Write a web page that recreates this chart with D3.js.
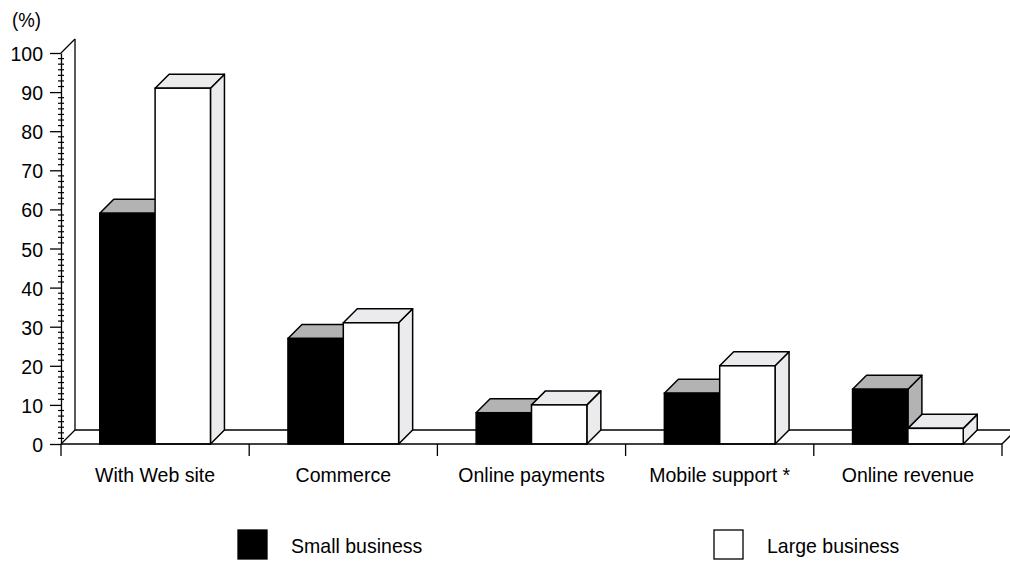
<!DOCTYPE html>
<html>
<head>
<meta charset="utf-8">
<script src="https://cdn.jsdelivr.net/npm/d3@7"></script>
<style>
  html, body { margin: 0; padding: 0; background: #fff; }
  svg text { font-family: "Liberation Sans", Arial, sans-serif; fill: #000; }
</style>
</head>
<body>
<svg id="chart" width="1010" height="561"></svg>
<script>
// Share of businesses by online activity (%)
const categories = ["With Web site", "Commerce", "Online payments", "Mobile support *", "Online revenue"];
const seriesNames = ["Small business", "Large business"];
const smallBusiness = [59, 27, 8, 13, 14];
const largeBusiness = [91, 31, 10, 20, 4];
const yTicks = [0, 10, 20, 30, 40, 50, 60, 70, 80, 90, 100];

const series = [
  { name: seriesNames[0], values: smallBusiness, front: "#000000", top: "#b3b3b3", side: "#b3b3b3" },
  { name: seriesNames[1], values: largeBusiness, front: "#ffffff", top: "#ebebed", side: "#ebebed" }
];

const svg = d3.select("#chart");
const plotLeft = 61, plotRight = 1002, plotBottom = 444, plotTop = 53;
const depth = 14;       // oblique depth offset (x right, y up)
const squeeze = 0.93;   // slightly condensed lettering

const x = d3.scaleBand().domain(categories).range([plotLeft, plotRight]).paddingInner(0).paddingOuter(0);
const xs = d3.scaleBand().domain(seriesNames).range([0, x.bandwidth()]).paddingInner(0).paddingOuter(0.7);
const y = d3.scaleLinear().domain([0, 100]).range([plotBottom, plotTop]);

const ink = "#000";
const g = svg.append("g");

// Back wall edge and floor outline
const floorBack = plotBottom - depth;
const frame = [
  [plotLeft, y(100), plotLeft + depth, y(100) - depth],            // top diagonal
  [plotLeft + depth, y(100) - depth, plotLeft + depth, floorBack], // back wall edge
  [plotLeft, plotBottom, plotLeft + depth, floorBack],             // left floor diagonal
  [plotLeft + depth, floorBack, plotRight + depth, floorBack],      // back floor line
  [plotRight, plotBottom, plotRight + depth, floorBack]            // right floor diagonal
];
g.selectAll("line.frame").data(frame).join("line")
  .attr("class", "frame")
  .attr("x1", d => d[0]).attr("y1", d => d[1])
  .attr("x2", d => d[2]).attr("y2", d => d[3])
  .attr("stroke", ink).attr("stroke-width", 1.3);

// Bars: side face, top face, front face
const bars = [];
categories.forEach((c, i) => {
  series.forEach(s => {
    bars.push({ cat: c, s: s, v: s.values[i] });
  });
});

const barG = g.append("g");
bars.forEach(b => {
  const x0 = x(b.cat) + xs(b.s.name);
  const x1 = x0 + xs.bandwidth();
  const yt = y(b.v);
  const grp = barG.append("g");
  grp.append("path")
    .attr("d", `M${x1},${plotBottom}L${x1 + depth},${plotBottom - depth}L${x1 + depth},${yt - depth}L${x1},${yt}Z`)
    .attr("fill", b.s.side).attr("stroke", ink).attr("stroke-width", 1.5).attr("stroke-linejoin", "round");
  grp.append("path")
    .attr("d", `M${x0},${yt}L${x0 + depth},${yt - depth}L${x1 + depth},${yt - depth}L${x1},${yt}Z`)
    .attr("fill", b.s.top).attr("stroke", ink).attr("stroke-width", 1.5).attr("stroke-linejoin", "round");
  grp.append("rect")
    .attr("x", x0).attr("y", yt)
    .attr("width", x1 - x0).attr("height", plotBottom - yt)
    .attr("fill", b.s.front).attr("stroke", ink).attr("stroke-width", 1.5);
});

// Front floor line (x axis)
g.append("line")
  .attr("x1", plotLeft).attr("x2", plotRight).attr("y1", plotBottom).attr("y2", plotBottom)
  .attr("stroke", ink).attr("stroke-width", 1.5);

// Category separator ticks and labels
const sepValues = categories.map(c => x(c)).concat([plotRight]);
g.selectAll("line.sep").data(sepValues).join("line")
  .attr("class", "sep")
  .attr("x1", d => d).attr("x2", d => d)
  .attr("y1", plotBottom).attr("y2", plotBottom + 12)
  .attr("stroke", ink).attr("stroke-width", 1.3);

g.selectAll("text.cat").data(categories).join("text")
  .attr("class", "cat")
  .attr("transform", d => `translate(${x(d) + x.bandwidth() / 2},482) scale(${squeeze},1)`)
  .attr("text-anchor", "middle")
  .style("font-size", "21px")
  .text(d => d);

// Y axis
const yAxis = d3.axisLeft(y).tickValues(yTicks).tickSize(11).tickSizeOuter(0).tickPadding(0);
const ax = g.append("g").attr("transform", `translate(${plotLeft},0)`).call(yAxis);
ax.select(".domain").attr("stroke", ink).attr("stroke-width", 1.3);
ax.selectAll(".tick line").attr("stroke", ink).attr("stroke-width", 1.3);
ax.selectAll(".tick text")
  .attr("x", null).attr("dy", null)
  .attr("transform", `translate(-18,7.5) scale(${squeeze},1)`)
  .style("font-family", "'Liberation Sans', Arial, sans-serif")
  .style("font-size", "21px").attr("fill", ink);

// Minor ticks crossing the axis
const minor = [];
for (let k = 0; k < 10; k++) {
  for (let j = 1; j < 7; j++) minor.push(k * 10 + j * 10 / 7);
}
g.selectAll("line.minor").data(minor).join("line")
  .attr("class", "minor")
  .attr("x1", plotLeft - 3).attr("x2", plotLeft + 3)
  .attr("y1", d => y(d)).attr("y2", d => y(d))
  .attr("stroke", ink).attr("stroke-width", 1.2);

// Unit label
svg.append("text")
  .attr("transform", `translate(12,27) scale(${squeeze},1)`)
  .style("font-size", "20px").text("(%)");

// Legend
const legendX = [238, 714];
const lg = svg.append("g").selectAll("g").data(series).join("g")
  .attr("transform", (d, i) => `translate(${legendX[i]},530)`);
lg.append("rect").attr("width", 29).attr("height", 29)
  .attr("fill", d => d.front).attr("stroke", ink).attr("stroke-width", 1.3);
lg.append("text")
  .attr("transform", `translate(53,22.5) scale(${squeeze},1)`)
  .style("font-size", "21px").text(d => d.name);
</script>
</body>
</html>
